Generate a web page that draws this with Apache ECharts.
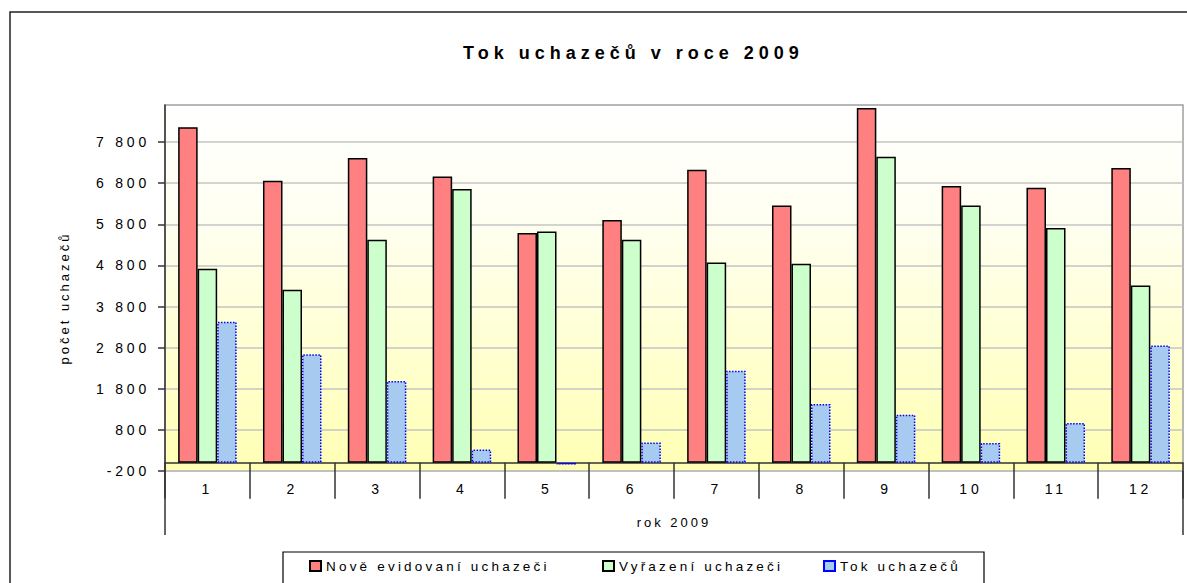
<!DOCTYPE html>
<html>
<head>
<meta charset="utf-8">
<title>Tok uchazečů v roce 2009</title>
<script src="https://cdn.jsdelivr.net/npm/echarts@6/dist/echarts.min.js"></script>
<style>
  html, body { margin: 0; padding: 0; background: #fff; }
  #main { width: 1187px; height: 583px; }
  /* excel-like wide letter spacing */
  #main text[style*="18px"] { letter-spacing: 5px; }
  #main text[style*="14px"] { letter-spacing: 3.8px; }
  #main text[style*="13.5px"] { letter-spacing: 3.2px; }
  #main text[style*="13px"] { letter-spacing: 3px; }
</style>
</head>
<body>
<div id="main"></div>
<script>
// data
var months = ['1', '2', '3', '4', '5', '6', '7', '8', '9', '10', '11', '12'];
var yearLabel = ['rok 2009'];
var noveEvidovani = [8156, 6859, 7411, 6964, 5586, 5903, 7127, 6258, 8628, 6730, 6689, 7168];
var vyrazeni = [4718, 4207, 5423, 6657, 5625, 5423, 4871, 4839, 7443, 6258, 5708, 4311];
var tok = [3430, 2640, 1990, 320, -40, 490, 2240, 1430, 1170, 480, 970, 2850];
var yTicks = [-200, 800, 1800, 2800, 3800, 4800, 5800, 6800, 7800];
var names = ['Nově evidovaní uchazeči', 'Vyřazení uchazeči', 'Tok uchazečů'];

var font = 'Liberation Sans, Arial, sans-serif';

function fmt(v) {
  return String(v).replace(/\B(?=(\d{3})+(?!\d))/g, ' ');
}

var chart = echarts.init(document.getElementById('main'), null, { renderer: 'svg' });

var option = {
  animation: false,
  backgroundColor: '#fff',
  title: {
    text: 'Tok uchazečů v roce 2009',
    left: 463,
    top: 44,
    padding: 0,
    textStyle: { fontFamily: font, fontSize: 18, fontWeight: 'bold', color: '#000' }
  },
  legend: [
    { data: [names[0]], left: 309 },
    { data: [names[1]], left: 602 },
    { data: [names[2]], left: 823 }
  ].map(function (l) {
    l.top = 559;
    l.padding = 0;
    l.icon = 'rect';
    l.itemWidth = 11;
    l.itemHeight = 10;
    l.itemGap = 0;
    l.selectedMode = false;
    l.textStyle = { fontFamily: font, fontSize: 13.5, color: '#000' };
    return l;
  }),
  grid: {
    left: 165,
    right: 4,
    top: 105,
    bottom: 112,
    show: true,
    borderColor: '#a0a0a0',
    borderWidth: 1.5,
    backgroundColor: new echarts.graphic.LinearGradient(0, 0, 0, 1, [
      { offset: 0, color: '#ffffff' },
      { offset: 0.3, color: '#fffff2' },
      { offset: 1, color: '#ffffb4' }
    ])
  },
  xAxis: [
    {
      type: 'category',
      data: months,
      position: 'bottom',
      axisLine: { onZero: true, lineStyle: { color: '#333', width: 1.5 } },
      axisTick: { show: true, alignWithLabel: false, length: 36, lineStyle: { color: '#333', width: 1.5 } },
      axisLabel: { margin: 11, color: '#000', fontFamily: font, fontSize: 14 },
      splitLine: { show: false }
    },
    {
      type: 'category',
      data: yearLabel,
      position: 'bottom',
      axisLine: { show: false, onZero: false },
      axisTick: { show: true, alignWithLabel: false, length: 64, lineStyle: { color: '#333', width: 1.5 } },
      axisLabel: { margin: 45, color: '#000', fontFamily: font, fontSize: 13 },
      splitLine: { show: false }
    }
  ],
  yAxis: {
    type: 'value',
    min: -200,
    max: 8700,
    interval: 1000,
    name: 'počet uchazečů',
    nameLocation: 'middle',
    nameGap: 94,
    nameTextStyle: { fontFamily: font, fontSize: 13, color: '#000', padding: [0, 20, 0, 0] },
    axisLine: { show: true, lineStyle: { color: '#333', width: 1.5 } },
    axisTick: { show: true, length: 7, customValues: yTicks, lineStyle: { color: '#333', width: 1.5 } },
    axisLabel: {
      customValues: yTicks,
      margin: 15,
      color: '#000',
      fontFamily: font,
      fontSize: 14,
      formatter: fmt
    },
    splitLine: { lineStyle: { color: '#c4c4c4', width: 1.5 } }
  },
  series: [
    {
      name: names[0],
      type: 'bar',
      data: noveEvidovani,
      barGap: '0%',
      barCategoryGap: '31%',
      itemStyle: { color: '#ff8080', borderColor: '#000', borderWidth: 1.5 }
    },
    {
      name: names[1],
      type: 'bar',
      data: vyrazeni,
      itemStyle: { color: '#ccffcc', borderColor: '#000', borderWidth: 1.5 }
    },
    {
      name: names[2],
      type: 'bar',
      data: tok,
      itemStyle: { color: '#a6caf0', borderColor: '#0000ff', borderWidth: 1.5, borderType: 'dotted' }
    }
  ],
  graphic: [
    // outer chart frame
    { type: 'rect', shape: { x: 10, y: 12, width: 1300, height: 700 }, style: { fill: 'none', stroke: '#222', lineWidth: 1.5 }, silent: true },
    // legend frame
    { type: 'rect', shape: { x: 283, y: 552, width: 701, height: 60 }, style: { fill: 'none', stroke: '#000', lineWidth: 1.2 }, silent: true }
  ]
};

chart.setOption(option);
</script>
</body>
</html>
